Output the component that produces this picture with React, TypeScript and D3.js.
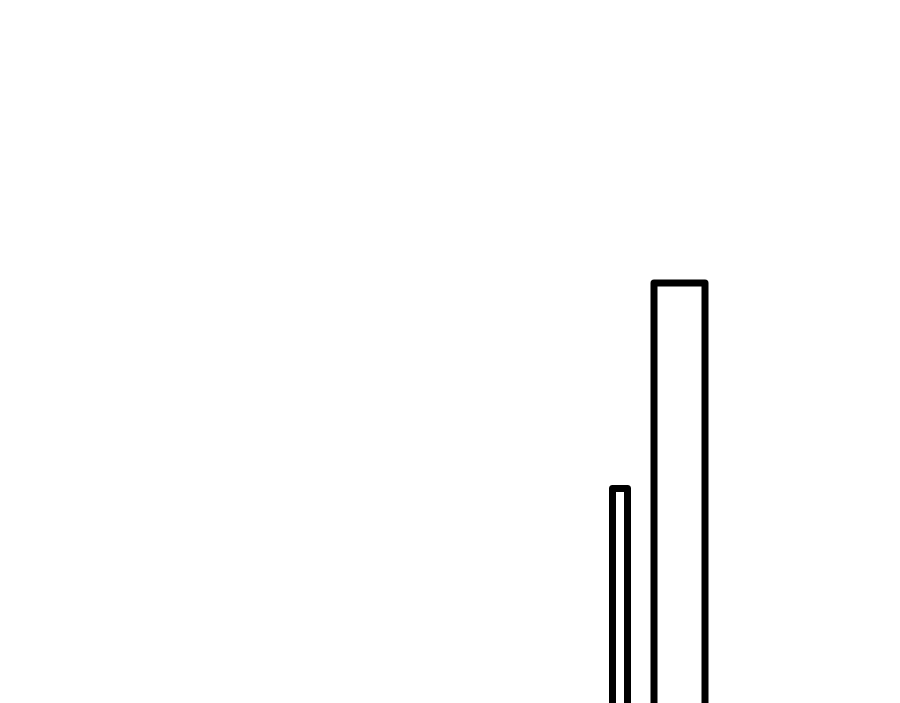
import React, { useEffect, useRef } from 'react'
import * as d3 from 'd3'

// bin edges and counts
const binStarts = [122.5, 130.8]
const binEnds = [125.5, 141]
const binCounts = [24.2, 40]

const WIDTH = 900
const HEIGHT = 703

export default function App() {
    const svgRef = useRef<SVGSVGElement | null>(null)

    useEffect(() => {
        const svg = d3.select(svgRef.current)
        svg.selectAll('*').remove()

        const xScale = d3.scaleLinear().domain([0, 180]).range([0, WIDTH])
        // baseline sits below the visible area, so the bars run off the bottom
        const yScale = d3.scaleLinear().domain([0, 40]).range([803, 283])

        const bins = binStarts.map((x0, i) => ({ x0, x1: binEnds[i], count: binCounts[i] }))

        svg.append('defs')
            .append('filter')
            .attr('id', 'soft')
            .append('feGaussianBlur')
            .attr('stdDeviation', 0.6)

        svg.append('g')
            .attr('filter', 'url(#soft)')
            .selectAll('rect')
            .data(bins)
            .join('rect')
            .attr('x', d => xScale(d.x0))
            .attr('y', d => yScale(d.count))
            .attr('width', d => xScale(d.x1) - xScale(d.x0))
            .attr('height', d => yScale(0) - yScale(d.count))
            .attr('fill', 'none')
            .attr('stroke', '#000')
            .attr('stroke-width', 7)
            .attr('stroke-linejoin', 'round')
    }, [])

    return (
        <svg
            ref={svgRef}
            width={WIDTH}
            height={HEIGHT}
            style={{ position: 'absolute', left: 0, top: 0, background: '#fff' }}
        />
    )
}
